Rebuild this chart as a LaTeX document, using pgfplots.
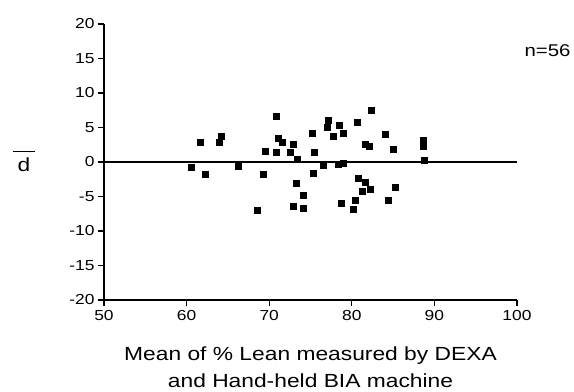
\documentclass[border=0pt]{standalone}
\usepackage{fontspec}
\setmainfont[FakeStretch=1.2]{Liberation Sans}
\usepackage{pgfplots}
\pgfplotsset{compat=1.18}
\begin{document}
\begin{tikzpicture}
\begin{axis}[
  at={(0,0)}, anchor=south west,
  scale only axis, width=413pt, height=276pt,
  xmin=50, xmax=100, ymin=-20, ymax=20,
  axis x line*=bottom, axis y line*=left,
  axis line style={line width=1.4pt,-},
  tick align=outside, major tick length=6pt,
  tick style={black, line width=1.2pt},
  xtick={50,60,...,100},
  ytick={-20,-15,-10,-5,0,5,10,15,20},
  yticklabels={-20,-15,-10,-5,0,5,10,15,20},
  /pgf/number format/assume math mode=true,
  ticklabel style={font=\fontsize{14.5}{14.5}\selectfont},
  xticklabel style={yshift=-1pt},
  clip=false,
]
\addplot[black, line width=2pt] coordinates {(50,0) (100,0)};
\addplot[only marks, mark=square*, mark size=3pt, black] coordinates {
(60.5,-0.7) (61.6,2.85) (62.3,-1.7) (64.2,3.7) (64.0,2.9) (66.2,-0.6)
(68.5,-7.05) (69.3,-1.7) (69.5,1.6) (70.9,6.6) (71.1,3.4) (71.6,2.9)
(70.9,1.4) (72.9,2.6) (72.6,1.4) (73.4,0.4) (73.3,-3.0) (74.1,-4.8)
(72.9,-6.4) (74.1,-6.7) (75.2,4.2) (75.4,1.35) (75.3,-1.6) (76.5,-0.5)
(77.2,6.1) (77.0,5.0) (77.8,3.8) (78.5,5.4) (78.9,4.2) (78.3,-0.3)
(78.9,-0.2) (80.7,5.8) (81.6,2.6) (82.1,2.3) (80.8,-2.4) (81.6,-2.9)
(81.2,-4.2) (82.2,-4.0) (80.4,-5.5) (80.2,-6.9) (78.7,-5.9) (82.3,7.5)
(84.0,4.0) (85.0,1.9) (88.7,3.2) (88.6,2.3) (88.8,0.3) (85.3,-3.6)
(84.4,-5.6)
};
\node[font=\fontsize{17}{17}\selectfont] at (axis cs:103.7,16.2) {n=56};
\node[font=\fontsize{19}{19}\selectfont] at (axis cs:40.3,0.1) {\shortstack{\rule{22pt}{1pt}\\[3pt]d}};
\node[anchor=base, yshift=-60.7pt, font=\fontsize{19}{19}\selectfont] at (axis description cs:0.5,0) {Mean of \% Lean measured by DEXA};
\node[anchor=base, yshift=-87.5pt, font=\fontsize{19}{19}\selectfont] at (axis description cs:0.5,0) {and Hand-held BIA machine};
\end{axis}
\path[use as bounding box] (-104pt,-88pt) rectangle (470pt,300pt);
\end{tikzpicture}
\end{document}
